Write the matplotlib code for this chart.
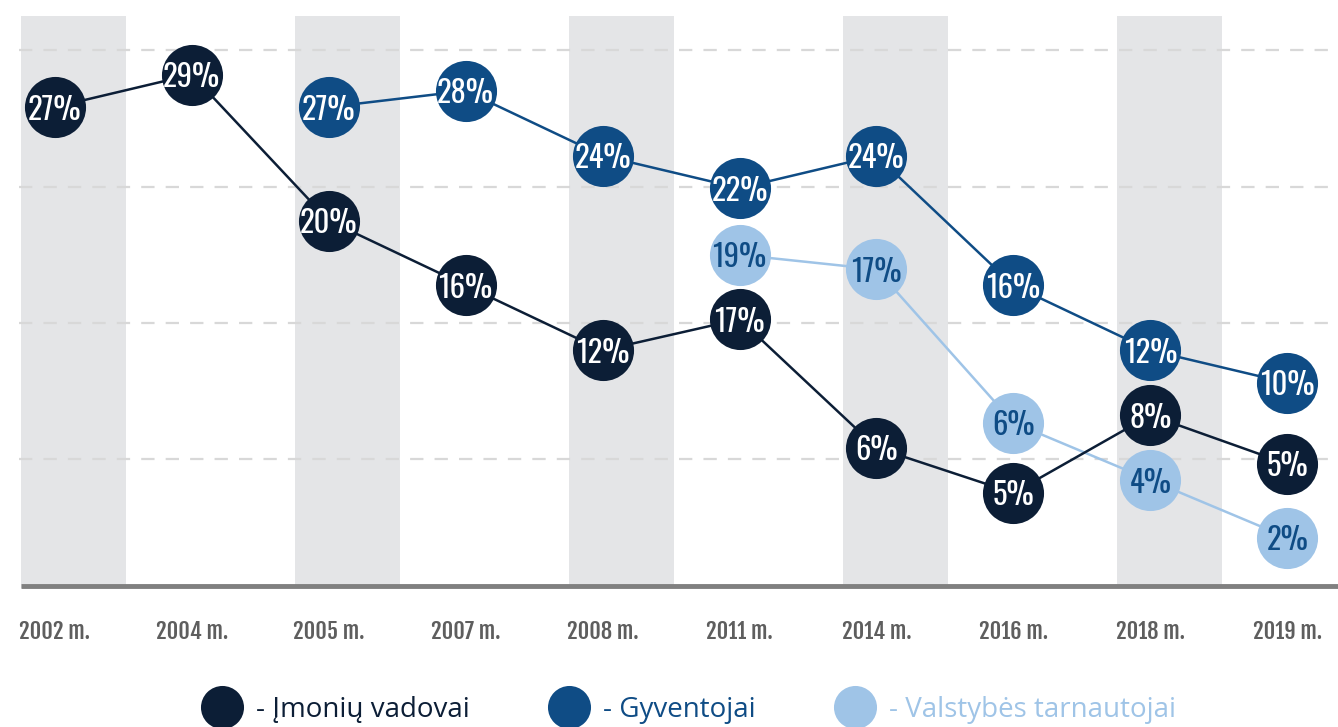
import numpy as np
import matplotlib
matplotlib.use("Agg")
import matplotlib.pyplot as plt
from matplotlib.lines import Line2D

# ── Data ──────────────────────────────────────────────────────────────────────
YEARS = ["2002 m.", "2004 m.", "2005 m.", "2007 m.", "2008 m.",
         "2011 m.", "2014 m.", "2016 m.", "2018 m.", "2019 m."]
VADOVAI     = [27, 29, 20, 16, 12, 17, 6, 5, 8, 5]
GYVENTOJAI  = [None, None, 27, 28, 24, 22, 24, 16, 12, 10]
TARNAUTOJAI = [None, None, None, None, None, 19, 17, 6, 4, 2]
SERIES_NAMES = ["- Įmonių vadovai", "- Gyventojai", "- Valstybės tarnautojai"]

NAVY  = "#0c1e36"
BLUE  = "#0f4c85"
LIGHT = "#9fc4e7"
BAND  = "#e4e5e7"
GRID  = "#d8d8d8"

COND = ["Oswald", "Archivo Narrow", "DejaVu Sans"]
COND_BOLD = ["Fjalla One", "Barlow Condensed", "DejaVu Sans"]
LEG_FONT = ["Open Sans", "DejaVu Sans"]

# vertical declutter offsets (pixels, + = down) so overlapping bubbles separate
DECLUTTER = {
    ("vadovai", 5): 50, ("vadovai", 7): 29,
    ("tarnautojai", 5): 18, ("tarnautojai", 7): -25, ("tarnautojai", 9): 25,
}

fig = plt.figure(figsize=(13.38, 7.27), dpi=100)
ax = fig.add_axes([0, 1 - 588 / 727, 1, 588 / 727])
x = np.arange(len(YEARS))
ax.set_xlim(-0.40, 9.37)
ax.set_ylim(-2.65, 33.6)

# alternating grey bands behind every second year
for i in x[::2]:
    ax.axvspan(i - 0.245, i + 0.52, ymin=0, ymax=0.973, color=BAND, lw=0, zorder=0)

# dashed guide lines
for g in (5.3, 13.7, 22.1, 30.5):
    ax.plot([-0.26, 9.37], [g, g], color=GRID, lw=1.6, dashes=(6, 5), zorder=1)

# baseline
ax.plot([-0.25, 9.37], [-2.5, -2.5], color="#808080", lw=3.5, zorder=2,
        solid_capstyle="butt", clip_on=False)

fwd = ax.transData
inv = ax.transData.inverted()


def draw_series(key, vals, color, text_color, z):
    xs, ys, labels = [], [], []
    for xi, v in zip(x, vals):
        if v is None:
            continue
        dy = DECLUTTER.get((key, xi), 0)
        px, py = fwd.transform((xi, v))
        ys.append(inv.transform((px, py - dy))[1])
        xs.append(xi)
        labels.append(f"{v}%")
    ax.plot(xs, ys, color=color, lw=1.8, zorder=z)
    ax.plot(xs, ys, ls="none", marker="o", ms=44, color=color, mec="none", zorder=z + 1)
    for xi, yi, lab in zip(xs, ys, labels):
        ax.text(xi, yi, lab, ha="center", va="center_baseline", fontsize=22,
                family=COND, color=text_color, zorder=z + 2)


draw_series("tarnautojai", TARNAUTOJAI, LIGHT, BLUE, 3)
draw_series("vadovai", VADOVAI, NAVY, "white", 6)
draw_series("gyventojai", GYVENTOJAI, BLUE, "white", 9)

ax.set_yticks([])
ax.set_xticks(x)
ax.set_xticklabels(YEARS, fontsize=16, family=COND_BOLD, color="#5e5e5e")
ax.tick_params(axis="x", length=0, pad=22)
for s in ax.spines.values():
    s.set_visible(False)
ax.patch.set_alpha(0)

# legend
handles = [Line2D([], [], ls="none", marker="o", ms=31, color=c, mec="none")
           for c in (NAVY, BLUE, LIGHT)]
fig.legend(handles, SERIES_NAMES, loc="center left",
           bbox_to_anchor=(200 / 1338, 1 - 710 / 727),
           ncol=3, frameon=False, labelcolor=[NAVY, BLUE, LIGHT],
           prop={"family": LEG_FONT, "size": 20}, handletextpad=0.45,
           columnspacing=2.8, handlelength=1.55, borderpad=0, borderaxespad=0)

fig.savefig("out.png", dpi=100)
